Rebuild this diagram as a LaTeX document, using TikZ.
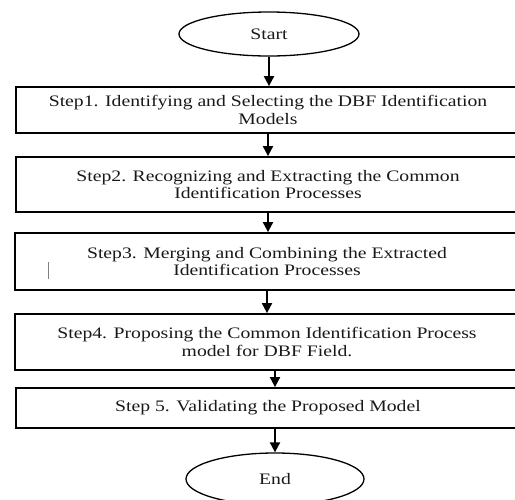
\documentclass[tikz,border=0pt]{standalone}
\usepackage{fontspec}
\setmainfont{Liberation Serif}[FakeStretch=1.23]
\usetikzlibrary{shapes.geometric,arrows.meta}
\begin{document}
\begin{tikzpicture}[x=1pt,y=-1pt,
  txt/.style={font=\fontsize{16}{17.5}\selectfont, text=black!90},
  stepbox/.style={txt, draw, line width=1.8pt, rectangle, minimum width=504pt,
    inner sep=0pt, align=center},
  terminal/.style={txt, draw, line width=1.3pt, ellipse, minimum width=180pt,
    minimum height=44pt, inner sep=0pt},
  flow/.style={line width=2pt, -{Triangle[width=10pt,length=10pt]}}]
\useasboundingbox (0,0) rectangle (515,499);

% terminals and process steps
\node[terminal] (start) at (269,34) {Start};
\node[stepbox, minimum height=46pt] (s1) at (268,110)
  {Step1. Identifying and Selecting the DBF Identification\\Models};
\node[stepbox, minimum height=55pt] (s2) at (268,184.5)
  {Step2. Recognizing and Extracting the Common\\Identification Processes};
\node[stepbox, minimum height=57pt] (s3) at (267,261.5)
  {Step3. Merging and Combining the Extracted\\Identification Processes};
\node[stepbox, minimum height=56pt] (s4) at (267,342)
  {Step4. Proposing the Common Identification Process\\model for DBF Field.};
\node[stepbox, minimum height=40pt] (s5) at (268,408)
  {Step 5. Validating the Proposed Model};
\node[terminal, minimum width=178pt, minimum height=52pt] (end) at (275,479) {End};

% stray cursor mark inside step 3
\draw[gray, line width=0.8pt] (48,262) -- (48,279);

% flow arrows
\draw[flow] (start.south) -- (start.south |- s1.north);
\draw[flow] (s1.south) -- (s2.north);
\draw[flow] (s2.south) -- (s2.south |- s3.north);
\draw[flow] (s3.south) -- (s4.north);
\draw[flow] (end.north |- s4.south) -- (end.north |- s5.north);
\draw[flow] (end.north |- s5.south) -- (end.north);
\end{tikzpicture}
\end{document}
